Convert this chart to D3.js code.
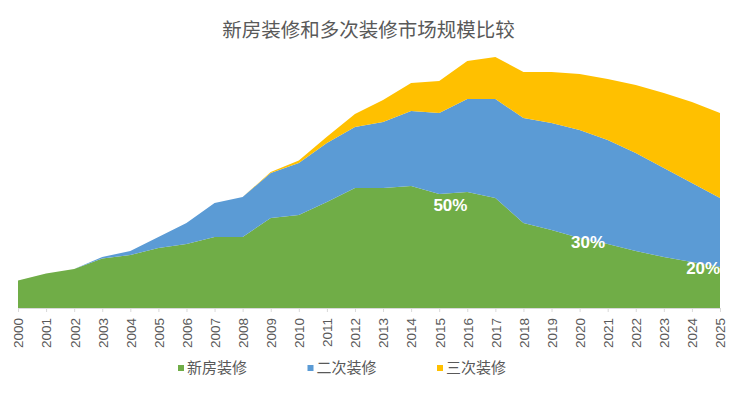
<!DOCTYPE html>
<html>
<head>
<meta charset="utf-8">
<script src="https://cdn.jsdelivr.net/npm/d3@7"></script>
<style>
  body { margin: 0; background: #fff; }
  svg { display: block; font-family: "Noto Sans CJK SC", "Liberation Sans", sans-serif; }
</style>
</head>
<body>
<div id="chart"></div>
<script>
// years on the x axis
var years = d3.range(2000, 2026);
// market size, arbitrary units
var newHome = [27.5, 34.5, 39, 49.5, 53, 60, 64, 71, 71, 90, 93, 106, 120, 120, 122, 114, 116, 110, 85, 78, 70, 64, 57, 51, 46, 41];
var second = [0, 0, 0, 1.5, 4, 11, 21, 34, 40, 45, 52, 59, 61, 66, 75, 81, 93, 99, 105, 107, 108, 104, 98, 89, 79, 69];
var third = [0, 0, 0, 0, 0, 0, 0, 0, 0, 1, 2.5, 6.3, 13, 22, 28, 32, 38, 42, 46, 51, 56, 61, 68, 75, 81, 85];
var seriesNames = ['新房装修', '二次装修', '三次装修'];
var colors = ['#70ad47', '#5b9bd5', '#ffc000'];
// share labels drawn on the green area
var shareLabels = [
    { year: 2015.4, value: 103, text: '50%' },
    { year: 2020.3, value: 66, text: '30%' },
    { year: 2024.4, value: 40, text: '20%' }
];

var width = 740, height = 395;
var svg = d3.select('#chart').append('svg')
    .attr('width', width)
    .attr('height', height);

var x = d3.scaleLinear().domain([2000, 2025]).range([18, 720]),
    y = d3.scaleLinear().domain([0, 260]).range([308, 48]);

var rows = years.map(function (yr, i) {
    return { year: yr, s0: newHome[i], s1: second[i], s2: third[i] };
});
var stack = d3.stack().keys(['s0', 's1', 's2']);
var layers = stack(rows);

// title
svg.append('text')
    .attr('x', 368.5).attr('y', 37)
    .attr('text-anchor', 'middle')
    .attr('fill', '#595959')
    .style('font-size', '19.5px')
    .text('新房装修和多次装修市场规模比较');

// x axis
var axis = svg.append('g')
    .attr('transform', 'translate(0,' + y(0) + ')')
    .call(d3.axisBottom(x).tickValues(years).tickFormat(d3.format('d')).tickSize(4).tickPadding(6));
axis.select('.domain').attr('stroke', '#d9d9d9');
axis.selectAll('.tick line').attr('stroke', '#d9d9d9');
axis.selectAll('.tick text')
    .attr('fill', '#595959')
    .style('font-family', '"Liberation Sans", Arial, sans-serif')
    .style('font-size', '13.5px')
    .attr('transform', 'rotate(-90)')
    .attr('text-anchor', 'end')
    .attr('x', -10)
    .attr('y', 0)
    .attr('dy', '0.36em');

var area = d3.area()
    .x(function (d) { return x(d.data.year); })
    .y0(function (d) { return y(d[0]); })
    .y1(function (d) { return y(d[1]); });

svg.append('g').selectAll('path')
    .data(layers)
    .enter().append('path')
    .attr('d', area)
    .attr('fill', function (d, i) { return colors[i]; });

svg.append('g').selectAll('text')
    .data(shareLabels)
    .enter().append('text')
    .attr('x', function (d) { return x(d.year); })
    .attr('y', function (d) { return y(d.value); })
    .attr('text-anchor', 'middle')
    .attr('dy', '0.35em')
    .attr('fill', '#fff')
    .style('font-family', '"Liberation Sans Narrow", "Liberation Sans", sans-serif')
    .style('font-weight', 'bold')
    .style('font-size', '17px')
    .text(function (d) { return d.text; });

// legend
var legend = svg.append('g').selectAll('g')
    .data(seriesNames)
    .enter().append('g')
    .attr('transform', function (d, i) { return 'translate(' + (178 + i * 129.5) + ',368)'; });
legend.append('rect')
    .attr('x', 0).attr('y', -3)
    .attr('width', 6).attr('height', 6)
    .attr('fill', function (d, i) { return colors[i]; });
legend.append('text')
    .attr('x', 9).attr('dy', '0.35em')
    .attr('fill', '#595959')
    .style('font-size', '15px')
    .text(function (d) { return d; });
</script>
</body>
</html>
